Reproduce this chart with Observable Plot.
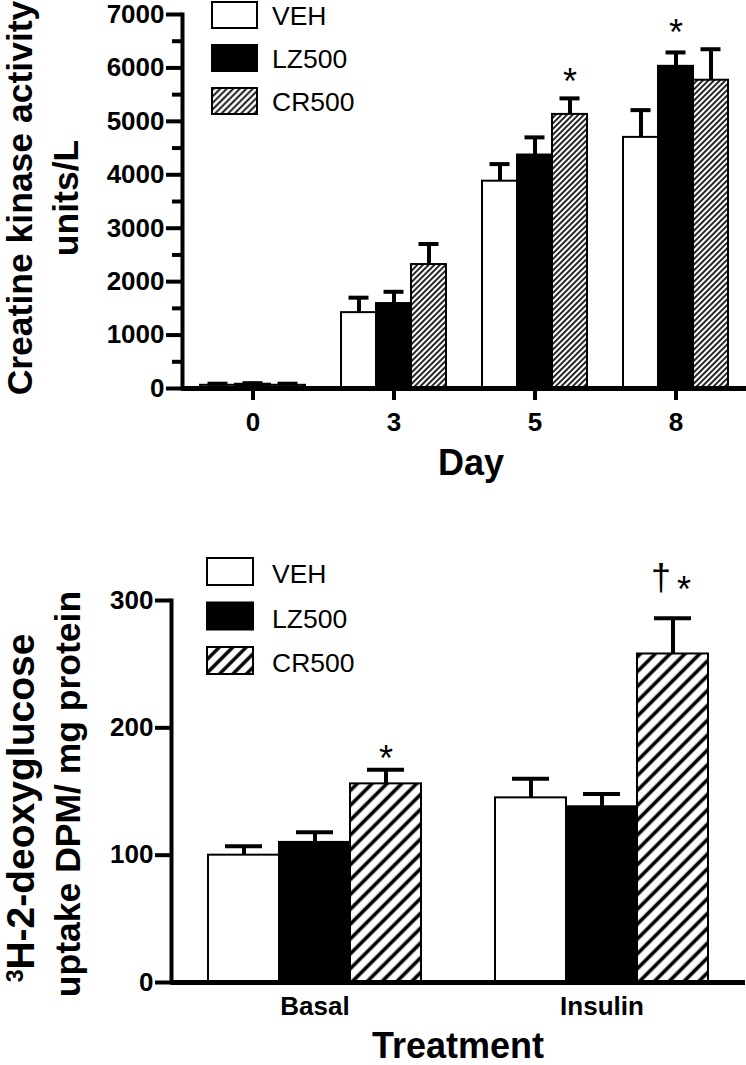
<!DOCTYPE html>
<html><head><meta charset="utf-8">
<script src="https://cdn.jsdelivr.net/npm/d3@7"></script>
<script src="https://cdn.jsdelivr.net/npm/@observablehq/plot@0.6"></script>
<style>
body{margin:0;background:#fff;}
#root{position:relative;width:746px;height:1065px;overflow:hidden;}
#root > svg{position:absolute;left:0;}
#root g[aria-label="y-axis tick label"], #root g[aria-label="y-axis tick label"] text,
#root g[aria-label="fx-axis tick label"], #root g[aria-label="fx-axis tick label"] text {
  font-size: 26px !important; font-weight: bold !important;
}
#root g[aria-label="text"], #root g[aria-label="text"] text { font-size: 36px !important; }
</style></head><body><div id="root"></div>
<script>
// ---------- Data: top panel (creatine kinase) ----------
const series = ["VEH", "LZ500", "CR500"];
const days = ["0", "3", "5", "8"];
const ckVEH = [60, 1420, 3880, 4700];
const ckVEHerr = [30, 280, 320, 510];
const ckLZ500 = [80, 1590, 4370, 6030];
const ckLZ500err = [20, 220, 330, 260];
const ckCR500 = [60, 2320, 5130, 5770];
const ckCR500err = [30, 385, 300, 580];
const ckTicks = [0, 1000, 2000, 3000, 4000, 5000, 6000, 7000];
const ckMinorTicks = [500, 1500, 2500, 3500, 4500, 5500, 6500];
const ckSig = [
  {day: "5", series: "CR500", mark: "*", y: 5900},
  {day: "8", series: "LZ500", mark: "*", y: 6810}
];

// ---------- Data: bottom panel (glucose uptake) ----------
const treatments = ["Basal", "Insulin"];
const glcVEH = [100, 145];
const glcVEHerr = [7, 15];
const glcLZ500 = [110, 138];
const glcLZ500err = [8, 10];
const glcCR500 = [156, 258];
const glcCR500err = [11, 28];
const glcTicks = [0, 100, 200, 300];
const glcSigStar = [{grp: "Basal", series: "CR500", mark: "*", y: 182}];
const glcSigInsulinStar = [{grp: "Insulin", series: "CR500", mark: "*", y: 315}];
const glcSigInsulinDagger = [{grp: "Insulin", series: "CR500", mark: "†", y: 317}];

const FONT = '"Liberation Sans", Arial, Helvetica, sans-serif';

const ckData = days.flatMap((day, i) => [
  {day, series: "VEH", value: ckVEH[i], err: ckVEHerr[i]},
  {day, series: "LZ500", value: ckLZ500[i], err: ckLZ500err[i]},
  {day, series: "CR500", value: ckCR500[i], err: ckCR500err[i]}
]);
const glcData = treatments.flatMap((grp, i) => [
  {grp, series: "VEH", value: glcVEH[i], err: glcVEHerr[i]},
  {grp, series: "LZ500", value: glcLZ500[i], err: glcLZ500err[i]},
  {grp, series: "CR500", value: glcCR500[i], err: glcCR500err[i]}
]);

const root = d3.select("#root");

// pattern defs
const defsSvg = root.append("svg").attr("width", 0).attr("height", 0).style("top", 0);
const defs = defsSvg.append("defs");
function hatch(id, w, sw) {
  const p = defs.append("pattern").attr("id", id).attr("patternUnits", "userSpaceOnUse")
    .attr("width", w).attr("height", w).attr("patternTransform", "rotate(45)");
  p.append("rect").attr("width", w).attr("height", w).attr("fill", "white");
  p.append("line").attr("x1", w / 2).attr("x2", w / 2).attr("y1", -1).attr("y2", w + 1)
    .attr("stroke", "black").attr("stroke-width", sw);
}
hatch("hatchTop", 4, 1.7);
hatch("hatchTopLegend", 4.6, 1.8);
hatch("hatchBottom", 10.5, 3.6);
hatch("hatchBottomLegend", 9.5, 3.4);

const styleBase = {fontFamily: FONT, background: "transparent", overflow: "visible", color: "black"};
const fmt = d => String(d);

const topPlot = Plot.plot({
  width: 746, height: 480,
  marginLeft: 181, marginRight: 0, marginTop: 14, marginBottom: 92,
  style: styleBase,
  fx: {domain: days, paddingInner: 0, paddingOuter: 0, label: null},
  x: {domain: series, paddingInner: 0, paddingOuter: 0.5, axis: null},
  y: {domain: [0, 7000], label: null},
  color: {domain: series, range: ["white", "black", "url(#hatchTop)"]},
  marks: [
    Plot.barY(ckData, {fx: "day", x: "series", y: "value", fill: "series", stroke: "black", strokeWidth: 2}),
    Plot.ruleX(ckData, {fx: "day", x: "series", y1: "value", y2: d => d.value + d.err, stroke: "black", strokeWidth: 4}),
    Plot.tickY(ckData, {fx: "day", x: "series", y: d => d.value + d.err, stroke: "black", strokeWidth: 4, insetLeft: 7.5, insetRight: 7.5}),
    Plot.text(ckSig, {fx: "day", x: "series", y: "y", text: "mark", fontSize: 36, dy: 9, fill: "black"}),
    Plot.ruleY([0], {stroke: "black", strokeWidth: 5}),
    Plot.axisY({ticks: ckTicks, tickFormat: fmt, tickSize: 16, tickPadding: 2, strokeWidth: 4, fontSize: 26, fontWeight: "bold", label: null}),
    Plot.axisY({ticks: ckMinorTicks, tickSize: 10, strokeWidth: 4, fill: "none", label: null}),
    Plot.frame({anchor: "left", stroke: "black", strokeWidth: 4, facetAnchor: "left"}),
    Plot.axisFx({anchor: "bottom", tickSize: 12, tickPadding: 12, strokeWidth: 4, fontSize: 26, fontWeight: "bold", label: null})
  ]
});
d3.select(topPlot).style("top", "0px");
root.node().appendChild(topPlot);

const bottomPlot = Plot.plot({
  width: 746, height: 585,
  marginLeft: 171, marginRight: 1, marginTop: 120, marginBottom: 83,
  style: styleBase,
  fx: {domain: treatments, paddingInner: 0, paddingOuter: 0, label: null},
  x: {domain: series, paddingInner: 0, paddingOuter: 0.5, axis: null},
  y: {domain: [0, 300], label: null},
  color: {domain: series, range: ["white", "black", "url(#hatchBottom)"]},
  marks: [
    Plot.barY(glcData, {fx: "grp", x: "series", y: "value", fill: "series", stroke: "black", strokeWidth: 2}),
    Plot.ruleX(glcData, {fx: "grp", x: "series", y1: "value", y2: d => d.value + d.err, stroke: "black", strokeWidth: 4}),
    Plot.tickY(glcData, {fx: "grp", x: "series", y: d => d.value + d.err, stroke: "black", strokeWidth: 4, insetLeft: 17, insetRight: 17}),
    Plot.text(glcSigStar, {fx: "grp", x: "series", y: "y", text: "mark", fontSize: 36, dy: 9, fill: "black"}),
    Plot.text(glcSigInsulinStar, {fx: "grp", x: "series", y: "y", text: "mark", fontSize: 36, dy: 9, dx: 11, fill: "black"}),
    Plot.text(glcSigInsulinDagger, {fx: "grp", x: "series", y: "y", text: "mark", fontSize: 36, dy: 0, dx: -12, fill: "black"}),
    Plot.ruleY([0], {stroke: "black", strokeWidth: 5}),
    Plot.axisY({ticks: glcTicks, tickFormat: fmt, tickSize: 16, tickPadding: 2, strokeWidth: 4, fontSize: 26, fontWeight: "bold", label: null}),
    Plot.frame({anchor: "left", stroke: "black", strokeWidth: 4, facetAnchor: "left"}),
    Plot.axisFx({anchor: "bottom", tickSize: 0, tickPadding: 14, fontSize: 26, fontWeight: "bold", label: null})
  ]
});
d3.select(bottomPlot).style("top", "480px");
root.node().appendChild(bottomPlot);

// ---------- overlay: legends and axis titles ----------
const ov = root.append("svg").attr("width", 746).attr("height", 1065).style("top", 0)
  .attr("font-family", FONT).style("pointer-events", "none");

function legend(x, y0, step, w, h, textX, baseOff, fills) {
  series.forEach((s, i) => {
    const y = y0 + i * step;
    ov.append("rect").attr("x", x).attr("y", y).attr("width", w).attr("height", h)
      .attr("fill", fills[i]).attr("stroke", "black").attr("stroke-width", 2);
    ov.append("text").attr("x", textX).attr("y", y + baseOff).attr("font-size", 26.5)
      .attr("fill", "black").text(s);
  });
}
legend(212, 2, 43, 45, 26, 272, 23, ["white", "black", "url(#hatchTopLegend)"]);
legend(207, 558, 44.5, 46, 27, 272, 25, ["white", "black", "url(#hatchBottomLegend)"]);

function vtitle(x, y, size) {
  return ov.append("text").attr("transform", `translate(${x},${y}) rotate(-90)`)
    .attr("text-anchor", "middle").attr("font-size", size).attr("font-weight", "bold").attr("fill", "black");
}
vtitle(32, 198, 35.5).text("Creatine kinase activity");
vtitle(78, 198, 35.5).text("units/L");
ov.append("text").attr("x", 471).attr("y", 475).attr("text-anchor", "middle")
  .attr("font-size", 36).attr("font-weight", "bold").text("Day");

const t1 = vtitle(34, 808, 39);
t1.append("tspan").attr("font-size", 23).attr("dy", -11).text("3");
t1.append("tspan").attr("dy", 11).text("H-2-deoxyglucose");
vtitle(80, 794, 35.5).text("uptake DPM/ mg protein");
ov.append("text").attr("x", 458).attr("y", 1058).attr("text-anchor", "middle")
  .attr("font-size", 36).attr("font-weight", "bold").text("Treatment");
</script></body></html>
